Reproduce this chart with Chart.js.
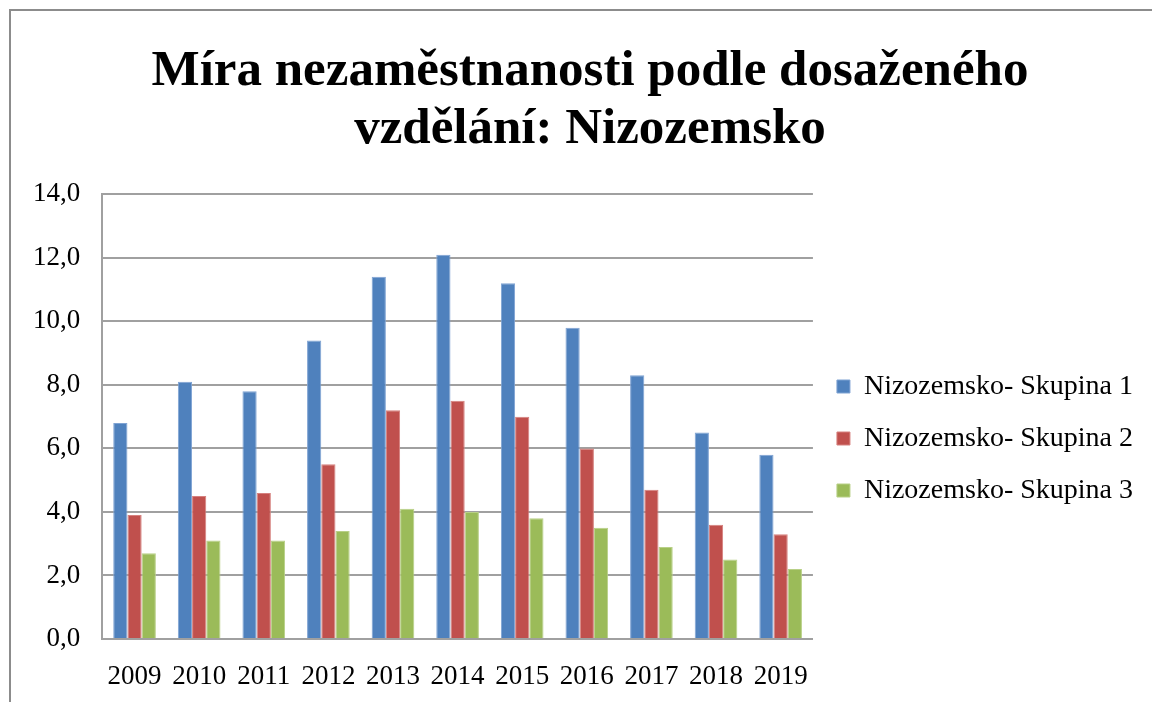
<!DOCTYPE html>
<html>
<head>
<meta charset="utf-8">
<script src="https://cdn.jsdelivr.net/npm/chart.js@4"></script>
<style>
  html, body { margin: 0; padding: 0; background: #fff; }
  #wrap { position: relative; width: 1152px; height: 702px; overflow: hidden; }
  #frame { position: absolute; left: 9px; top: 9px; width: 1200px; height: 760px;
           border-top: 2px solid #8c8c8c; border-left: 2px solid #8c8c8c; pointer-events: none; }
</style>
</head>
<body>
<div id="wrap">
  <canvas id="c" width="1152" height="702"></canvas>
  <div id="frame"></div>
</div>
<script>
const categories = ["2009","2010","2011","2012","2013","2014","2015","2016","2017","2018","2019"];
const skupina1 = [6.8, 8.1, 7.8, 9.4, 11.4, 12.1, 11.2, 9.8, 8.3, 6.5, 5.8];
const skupina2 = [3.9, 4.5, 4.6, 5.5, 7.2, 7.5, 7.0, 6.0, 4.7, 3.6, 3.3];
const skupina3 = [2.7, 3.1, 3.1, 3.4, 4.1, 4.0, 3.8, 3.5, 2.9, 2.5, 2.2];
const seriesNames = ["Nizozemsko- Skupina 1", "Nizozemsko- Skupina 2", "Nizozemsko- Skupina 3"];
const titleLines = ["Míra nezaměstnanosti podle dosaženého", "vzdělání: Nizozemsko"];

const serif = "'Liberation Serif', 'Times New Roman', serif";

// shift the title's centring box slightly to the right (the original title is centred over the whole frame)
const titleShift = {
  id: 'titleShift',
  afterLayout(chart) {
    if (chart.titleBlock) { chart.titleBlock.left += 26; }
  }
};

new Chart(document.getElementById('c'), {
  type: 'bar',
  data: {
    labels: categories,
    datasets: [
      { label: seriesNames[0], data: skupina1, backgroundColor: '#4F81BD', borderColor: '#7FA3D3', borderWidth: 1 },
      { label: seriesNames[1], data: skupina2, backgroundColor: '#C0504D', borderColor: '#D6807E', borderWidth: 1 },
      { label: seriesNames[2], data: skupina3, backgroundColor: '#9BBB59', borderColor: '#B8D087', borderWidth: 1 }
    ]
  },
  plugins: [titleShift],
  options: {
    responsive: false,
    animation: false,
    layout: { padding: { left: 11, right: 9, top: 43, bottom: -12 } },
    datasets: { bar: { barPercentage: 1.0, categoryPercentage: 0.66 } },
    plugins: {
      title: {
        display: true,
        text: titleLines,
        color: '#000',
        font: { family: serif, size: 51, weight: 'bold', lineHeight: 1.14 },
        padding: { top: 0, bottom: 35 }
      },
      legend: {
        position: 'right',
        align: 'center',
        maxWidth: 400,
        title: { display: true, text: ' ', font: { size: 10, lineHeight: 1 }, padding: { top: 55, bottom: 55 } },
        labels: {
          color: '#000',
          font: { family: serif, size: 28 },
          boxWidth: 13,
          boxHeight: 13,
          padding: 24
        }
      },
      tooltip: { enabled: false }
    },
    scales: {
      x: {
        grid: { display: false, drawTicks: false },
        border: { display: true, color: '#a0a0a0', width: 2 },
        ticks: { color: '#000', font: { family: serif, size: 27, lineHeight: 1.0 }, padding: 24, maxRotation: 0, autoSkip: false }
      },
      y: {
        min: 0, max: 14,
        grid: { color: '#a0a0a0', lineWidth: 2, drawTicks: false },
        border: { display: true, color: '#a0a0a0', width: 2 },
        ticks: {
          stepSize: 2, color: '#000', padding: 22,
          font: { family: serif, size: 27 },
          callback: (v) => v.toFixed(1).replace('.', ',')
        }
      }
    }
  }
});
</script>
</body>
</html>
